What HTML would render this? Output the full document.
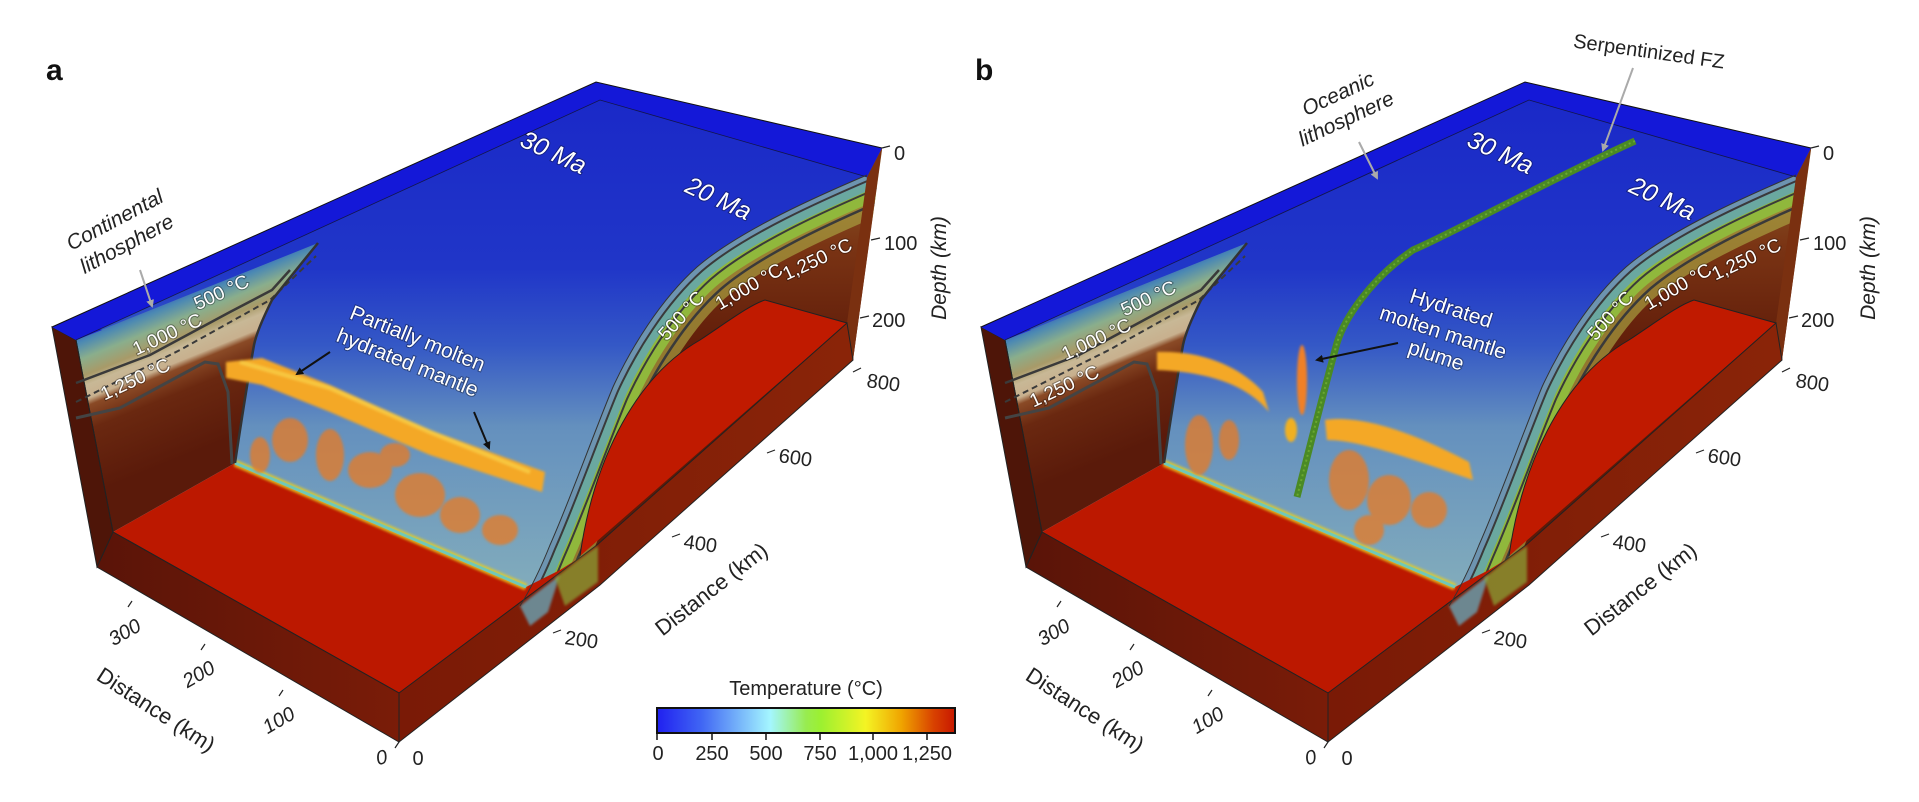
<!DOCTYPE html>
<html><head><meta charset="utf-8"><style>
html,body{margin:0;padding:0;background:#fff;}
svg{display:block;}
text{font-family:"Liberation Sans",Arial,sans-serif;}
.t{font-size:20px;fill:#222;}
.w{font-size:19px;fill:#fff;paint-order:stroke;stroke:rgba(0,0,0,0.35);stroke-width:2px;}
.an{font-size:21px;fill:#222;font-style:italic;}
</style></head><body>
<svg width="1919" height="802" viewBox="0 0 1919 802" xmlns="http://www.w3.org/2000/svg">
<defs>
  <linearGradient id="cur" gradientUnits="userSpaceOnUse" x1="0" y1="90" x2="0" y2="600">
    <stop offset="0" stop-color="#1a28c8"/>
    <stop offset="0.35" stop-color="#2036c8"/>
    <stop offset="0.5" stop-color="#3458c6"/>
    <stop offset="0.66" stop-color="#6490be"/>
    <stop offset="1" stop-color="#84aebc"/>
  </linearGradient>
  <linearGradient id="wall" gradientUnits="userSpaceOnUse" x1="190" y1="280" x2="251" y2="430">
    <stop offset="0" stop-color="#2a3cc0"/>
    <stop offset="0.1" stop-color="#4a88b4"/>
    <stop offset="0.2" stop-color="#8aae8c"/>
    <stop offset="0.3" stop-color="#a89a68"/>
    <stop offset="0.36" stop-color="#c8b896"/>
    <stop offset="0.44" stop-color="#c8b08e"/>
    <stop offset="0.48" stop-color="#8a4a26"/>
    <stop offset="0.62" stop-color="#6a2810"/>
    <stop offset="1" stop-color="#5a1a0a"/>
  </linearGradient>
  <linearGradient id="front" gradientUnits="userSpaceOnUse" x1="100" y1="0" x2="400" y2="0">
    <stop offset="0" stop-color="#5a1408"/><stop offset="1" stop-color="#7a1c08"/>
  </linearGradient>
  <linearGradient id="front2" gradientUnits="userSpaceOnUse" x1="400" y1="0" x2="850" y2="0">
    <stop offset="0" stop-color="#7a1a06"/><stop offset="1" stop-color="#8a2408"/>
  </linearGradient>
  <linearGradient id="band" gradientUnits="userSpaceOnUse" x1="0" y1="170" x2="0" y2="360">
    <stop offset="0" stop-color="#8a5a28"/><stop offset="0.4" stop-color="#7a3414"/><stop offset="1" stop-color="#5e1a08"/>
  </linearGradient>
  <linearGradient id="cb" x1="0" y1="0" x2="1" y2="0">
    <stop offset="0" stop-color="#2020f0"/>
    <stop offset="0.15" stop-color="#4066f4"/>
    <stop offset="0.38" stop-color="#a4f6ff"/>
    <stop offset="0.5" stop-color="#98ec50"/>
    <stop offset="0.55" stop-color="#9cf030"/>
    <stop offset="0.7" stop-color="#f4f424"/>
    <stop offset="0.82" stop-color="#f0a400"/>
    <stop offset="0.93" stop-color="#d84000"/>
    <stop offset="1" stop-color="#c81800"/>
  </linearGradient>
  <filter id="bl" x="-20%" y="-20%" width="140%" height="140%"><feGaussianBlur stdDeviation="2.5"/></filter>
  <filter id="bl2" x="-20%" y="-20%" width="140%" height="140%"><feGaussianBlur stdDeviation="1.2"/></filter>
  <clipPath id="bandclip">
    <path d="M882,148 L867,175 C820,195 740,230 697,267 C660,300 630,350 613,387 C595,430 570,500 550,545 C540,570 530,590 520,606 L600,560 L847,323 L853,360 L882,150 Z"/>
  </clipPath>
  <marker id="ah" markerWidth="8" markerHeight="8" refX="6" refY="4" orient="auto" markerUnits="userSpaceOnUse"><path d="M0,0 L8,4 L0,8 Z" fill="#111"/></marker>
  <marker id="ahg" markerWidth="8" markerHeight="8" refX="6" refY="4" orient="auto" markerUnits="userSpaceOnUse"><path d="M0,0 L8,4 L0,8 Z" fill="#aaa"/></marker>

  <g id="box">
    <path d="M52,327 L596,82 L882,148 L867,175 C820,195 740,230 697,267 C660,300 630,350 613,387 C595,430 570,500 550,545 C540,570 530,590 520,606 L235,463 L113,532 Z" fill="url(#cur)"/>
    <path d="M882,148 L867,175 C820,195 740,230 697,267 C660,300 630,350 613,387 C595,430 570,500 550,545 C540,570 530,590 520,606 L600,560 L847,323 L853,360 L882,150 Z" fill="url(#band)"/>
    <g clip-path="url(#bandclip)" fill="none">
      <path d="M867,175 C820,195 740,230 697,267 C660,300 630,350 613,387 C595,430 570,500 550,545 C540,570 530,590 520,606" stroke="#a8a040" stroke-width="84" opacity="0.7"/>
      <path d="M867,175 C820,195 740,230 697,267 C660,300 630,350 613,387 C595,430 570,500 550,545 C540,570 530,590 520,606" stroke="#90b83c" stroke-width="54"/>
      <path d="M867,175 C820,195 740,230 697,267 C660,300 630,350 613,387 C595,430 570,500 550,545 C540,570 530,590 520,606" stroke="#6aa8a0" stroke-width="30"/>
      <path d="M867,175 C820,195 740,230 697,267 C660,300 630,350 613,387 C595,430 570,500 550,545 C540,570 530,590 520,606" stroke="#6d94b0" stroke-width="14"/>
      <path transform="translate(5,4)" d="M867,175 C820,195 740,230 697,267 C660,300 630,350 613,387 C595,430 570,500 550,545 C540,570 530,590 520,606" stroke="#3a3a3a" stroke-width="2"/>
      <path transform="translate(14,12)" d="M867,175 C820,195 740,230 697,267 C660,300 630,350 613,387 C595,430 570,500 550,545 C540,570 530,590 520,606" stroke="#3a3a3a" stroke-width="2"/>
      <path transform="translate(24,22)" d="M867,175 C820,195 740,230 697,267 C660,300 630,350 613,387 C595,430 570,500 550,545 C540,570 530,590 520,606" stroke="#3a3a3a" stroke-width="2.5"/>
    </g>
    <path d="M867,177 L882,148 L853,360 L847,323 Z" fill="#7a3010"/>
    <path d="M580,556 C592,470 630,380 700,340 C730,320 750,305 765,300 L847,323 Z" fill="#c01a00"/>
    <path d="M580,556 C592,470 630,380 700,340 C730,320 750,305 765,300 L847,323" fill="none" stroke="#222" stroke-width="1"/>
    <!-- left floor red (drawn before front face) -->
    <path d="M113,532 L235,463 L526,587 L560,570 L600,545 L600,560 L399,700 Z" fill="#bc1800"/>
    <path d="M235,463 L526,587" stroke="#e8d020" stroke-width="7" opacity="0.8" filter="url(#bl2)"/>
    <path d="M235,463 L526,587" stroke="#70c8b8" stroke-width="3"/>
    <!-- right front face -->
    <path d="M399,693 L597,545 L847,323 L853,360 L600,585 L399,742 Z" fill="url(#front2)" stroke="#222" stroke-width="1"/>
    <path d="M520,606 L530,598 L560,575 L548,612 L530,626 Z" fill="#6a9aa8" opacity="0.85" filter="url(#bl2)"/>
    <path d="M555,578 L578,560 L598,546 L598,582 L565,606 Z" fill="#8aa838" opacity="0.7" filter="url(#bl2)"/>
    <path d="M113,532 L399,693" stroke="#222" stroke-width="1"/>
    <path d="M113,532 L399,693 L399,742 L97,567 Z" fill="url(#front)" stroke="#222" stroke-width="1"/>
    <path d="M76,340 L318,243 C300,265 280,290 272,300 C262,320 256,335 254,345 C246,390 240,430 235,463 L113,532 Z" fill="url(#wall)"/>
    <path d="M52,327 L76,340 L113,532 L97,567 Z" fill="#4e1508" stroke="#222" stroke-width="1"/>
    <path d="M52,327 L76,340 L102,330 L80,318 Z" fill="#1a22d8"/>
    <path d="M52,327 L596,82 L882,148 L867,177 L600,100 L76,340 Z" fill="#1418d8"/>
    <path d="M52,327 L596,82 L882,148" fill="none" stroke="#111" stroke-width="1"/>
    <path d="M76,340 L600,100 L867,177" fill="none" stroke="#111" stroke-width="0.8" opacity="0.7"/>
    <path d="M76,340 L113,532" stroke="#222" stroke-width="1"/>
    <path d="M76,383 L150,355 L230,312 L272,290 L290,270" fill="none" stroke="#3a3a3a" stroke-width="2.5"/>
    <path d="M76,402 L180,350 L270,300 L316,256" fill="none" stroke="#3a3a3a" stroke-width="2" stroke-dasharray="6,4"/>
    <path d="M76,418 L120,408 L205,362 L218,364 L228,392 L232,464" fill="none" stroke="#444" stroke-width="3"/>
    <path d="M318,243 C300,265 280,290 272,300 C262,320 256,335 254,345 C246,390 240,430 235,463" fill="none" stroke="#333" stroke-width="2.5"/>
    <path d="M867,175 C820,195 740,230 697,267 C660,300 630,350 613,387 C595,430 570,500 550,545 C540,570 530,590 520,606" fill="none" stroke="#333" stroke-width="1"/>
    <g stroke="#222" stroke-width="1.2">
      <line x1="882" y1="148" x2="890" y2="146"/><line x1="871" y1="240" x2="880" y2="238"/>
      <line x1="860" y1="318" x2="869" y2="316"/><line x1="853" y1="372" x2="861" y2="368"/>
      <line x1="767" y1="453" x2="775" y2="450"/><line x1="672" y1="537" x2="680" y2="534"/>
      <line x1="553" y1="633" x2="561" y2="630"/>
      <line x1="132" y1="601" x2="128" y2="607"/><line x1="205" y1="644" x2="201" y2="650"/>
      <line x1="283" y1="690" x2="279" y2="696"/><line x1="399" y1="742" x2="395" y2="748"/>
    </g>
    <g class="t">
      <text x="894" y="160">0</text>
      <text x="884" y="250">100</text>
      <text x="872" y="327">200</text>
      <text transform="translate(866,387) rotate(8)">800</text>
      <text transform="translate(778,462) rotate(8)">600</text>
      <text transform="translate(683,548) rotate(8)">400</text>
      <text transform="translate(564,644) rotate(8)">200</text>
      <text transform="translate(946,268) rotate(-90)" text-anchor="middle" font-style="italic" font-size="21">Depth (km)</text>
      <text transform="translate(716,595) rotate(-38)" text-anchor="middle" font-size="22">Distance (km)</text>
      <text transform="translate(128,638) rotate(-30)" text-anchor="middle" font-style="italic">300</text>
      <text transform="translate(202,680) rotate(-30)" text-anchor="middle" font-style="italic">200</text>
      <text transform="translate(282,726) rotate(-30)" text-anchor="middle" font-style="italic">100</text>
      <text transform="translate(383,764) rotate(-12)" text-anchor="middle" font-style="italic">0</text>
      <text x="418" y="765" text-anchor="middle">0</text>
      <text transform="translate(152,716) rotate(33)" text-anchor="middle" font-size="22">Distance (km)</text>
    </g>
  </g>
</defs>

<use href="#box"/>
<text x="46" y="80" font-size="30" font-weight="bold" fill="#111">a</text>
<g filter="url(#bl2)">
  <g fill="#e87a20" opacity="0.75">
    <ellipse cx="290" cy="440" rx="18" ry="22"/><ellipse cx="330" cy="455" rx="14" ry="26"/>
    <ellipse cx="370" cy="470" rx="22" ry="18"/><ellipse cx="420" cy="495" rx="25" ry="22"/>
    <ellipse cx="460" cy="515" rx="20" ry="18"/><ellipse cx="500" cy="530" rx="18" ry="15"/>
    <ellipse cx="260" cy="455" rx="10" ry="18"/><ellipse cx="395" cy="455" rx="15" ry="12"/>
  </g>
  <path d="M226,362 L262,358 L330,385 L430,430 L545,472 L542,492 L430,455 L330,412 L262,385 L226,378 Z" fill="#f4a828"/>
  <path d="M240,362 L330,388 L430,432 L530,472" stroke="#f8c840" stroke-width="4" fill="none"/>
</g>
<g class="w">
  <text transform="translate(224,298) rotate(-25)" text-anchor="middle">500 °C</text>
  <text transform="translate(170,340) rotate(-25)" text-anchor="middle">1,000 °C</text>
  <text transform="translate(138,385) rotate(-25)" text-anchor="middle">1,250 °C</text>
  <text transform="translate(686,320) rotate(-48)" text-anchor="middle">500 °C</text>
  <text transform="translate(752,292) rotate(-30)" text-anchor="middle">1,000 °C</text>
  <text transform="translate(820,265) rotate(-25)" text-anchor="middle">1,250 °C</text>
  <text transform="translate(550,160) rotate(25)" text-anchor="middle" font-size="25" font-style="italic">30 Ma</text>
  <text transform="translate(715,206) rotate(25)" text-anchor="middle" font-size="25" font-style="italic">20 Ma</text>
  <text transform="translate(415,345) rotate(22)" text-anchor="middle" font-size="21">Partially molten</text>
  <text transform="translate(405,369) rotate(22)" text-anchor="middle" font-size="21">hydrated mantle</text>
</g>
<line x1="330" y1="352" x2="297" y2="374" stroke="#111" stroke-width="2" marker-end="url(#ah)"/>
<line x1="474" y1="412" x2="489" y2="448" stroke="#111" stroke-width="2" marker-end="url(#ah)"/>
<text transform="translate(118,226) rotate(-28)" text-anchor="middle" class="an">Continental</text>
<text transform="translate(130,250) rotate(-28)" text-anchor="middle" class="an">lithosphere</text>
<line x1="140" y1="270" x2="152" y2="306" stroke="#aaa" stroke-width="2" marker-end="url(#ahg)"/>

<text x="806" y="695" text-anchor="middle" class="t" font-size="20">Temperature (°C)</text>
<rect x="657" y="708" width="298" height="25" fill="url(#cb)" stroke="#111" stroke-width="2"/>
<g stroke="#111" stroke-width="1.5">
  <line x1="657" y1="733" x2="657" y2="740"/><line x1="712" y1="733" x2="712" y2="740"/>
  <line x1="766" y1="733" x2="766" y2="740"/><line x1="820" y1="733" x2="820" y2="740"/>
  <line x1="873" y1="733" x2="873" y2="740"/><line x1="927" y1="733" x2="927" y2="740"/>
</g>
<g class="t" font-size="19" text-anchor="middle">
  <text x="658" y="760">0</text><text x="712" y="760">250</text><text x="766" y="760">500</text>
  <text x="820" y="760">750</text><text x="873" y="760">1,000</text><text x="927" y="760">1,250</text>
</g>

<use href="#box" transform="translate(929,0)"/>
<text x="975" y="80" font-size="30" font-weight="bold" fill="#111">b</text>
<g transform="translate(929,0)">
  <g filter="url(#bl2)">
    <g fill="#e87a20" opacity="0.75">
      <ellipse cx="270" cy="445" rx="14" ry="30"/><ellipse cx="300" cy="440" rx="10" ry="20"/>
      <ellipse cx="420" cy="480" rx="20" ry="30"/><ellipse cx="460" cy="500" rx="22" ry="25"/>
      <ellipse cx="500" cy="510" rx="18" ry="18"/><ellipse cx="440" cy="530" rx="15" ry="15"/>
    </g>
    <path d="M228,352 C270,350 310,365 334,392 L340,412 C318,385 280,372 228,370 Z" fill="#f4a828"/>
    <path d="M396,420 C430,415 480,430 540,462 L544,480 C480,458 430,440 398,440 Z" fill="#f4a828"/>
    <ellipse cx="373" cy="380" rx="5" ry="35" fill="#f08028"/>
    <ellipse cx="362" cy="430" rx="6" ry="12" fill="#f0b020"/>
  </g>
  <path d="M706,141 C620,180 520,235 484,250 C440,280 415,320 408,343 C395,390 380,450 368,497" fill="none" stroke="#4a8a24" stroke-width="7"/>
  <path d="M706,141 C620,180 520,235 484,250 C440,280 415,320 408,343 C395,390 380,450 368,497" fill="none" stroke="#6aa830" stroke-width="2" stroke-dasharray="2,3"/>
  <g class="w">
    <text transform="translate(222,304) rotate(-25)" text-anchor="middle">500 °C</text>
    <text transform="translate(170,345) rotate(-25)" text-anchor="middle">1,000 °C</text>
    <text transform="translate(138,392) rotate(-25)" text-anchor="middle">1,250 °C</text>
    <text transform="translate(686,320) rotate(-48)" text-anchor="middle">500 °C</text>
    <text transform="translate(752,292) rotate(-30)" text-anchor="middle">1,000 °C</text>
    <text transform="translate(820,265) rotate(-25)" text-anchor="middle">1,250 °C</text>
    <text transform="translate(568,160) rotate(25)" text-anchor="middle" font-size="25" font-style="italic">30 Ma</text>
    <text transform="translate(730,206) rotate(25)" text-anchor="middle" font-size="25" font-style="italic">20 Ma</text>
    <text transform="translate(520,315) rotate(18)" text-anchor="middle" font-size="21">Hydrated</text>
    <text transform="translate(512,339) rotate(18)" text-anchor="middle" font-size="21">molten mantle</text>
    <text transform="translate(505,362) rotate(18)" text-anchor="middle" font-size="21">plume</text>
  </g>
  <line x1="469" y1="343" x2="388" y2="360" stroke="#111" stroke-width="2" marker-end="url(#ah)"/>
  <text transform="translate(412,100) rotate(-25)" text-anchor="middle" class="an">Oceanic</text>
  <text transform="translate(420,125) rotate(-25)" text-anchor="middle" class="an">lithosphere</text>
  <line x1="430" y1="142" x2="448" y2="178" stroke="#aaa" stroke-width="2" marker-end="url(#ahg)"/>
  <text transform="translate(719,58) rotate(8)" text-anchor="middle" class="t" font-size="20">Serpentinized FZ</text>
  <line x1="704" y1="68" x2="674" y2="150" stroke="#aaa" stroke-width="2" marker-end="url(#ahg)"/>
</g>
</svg>
</body></html>
